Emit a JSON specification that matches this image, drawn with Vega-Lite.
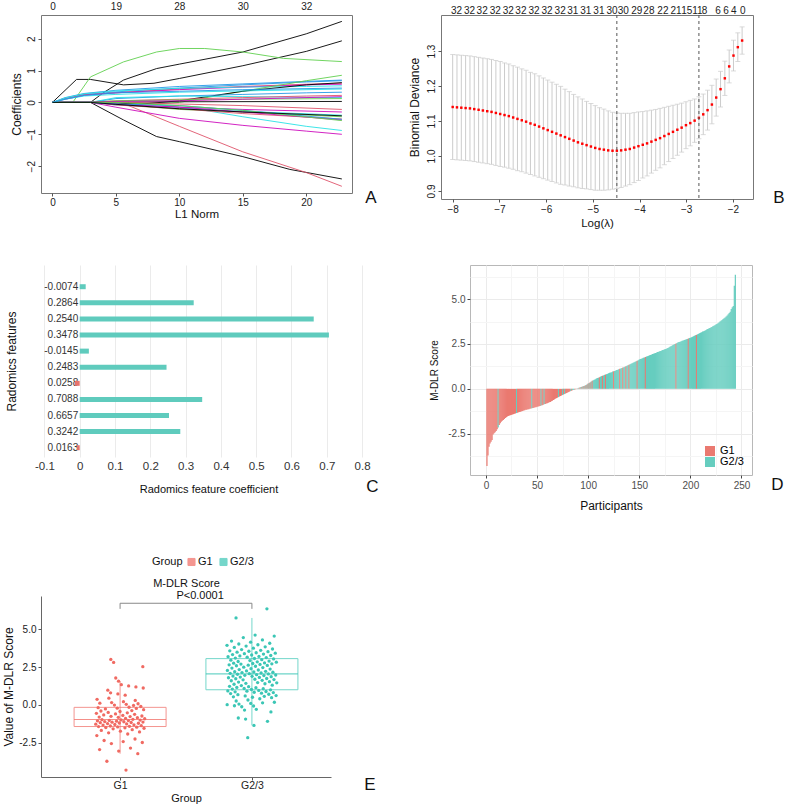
{
"$schema": "https://vega.github.io/schema/vega-lite/v6.json",
"padding": {"left": 2, "top": 0, "right": 0, "bottom": 0},
"background": "white",
"config": {
  "font": "Liberation Sans",
  "axis": {"labelFont": "Liberation Sans", "titleFont": "Liberation Sans", "titleFontWeight": "normal", "labelColor": "#222222", "titleColor": "#111111", "tickColor": "#555555", "domainColor": "#555555", "labelFlush": false, "labelOverlap": false},
  "title": {"font": "Liberation Sans", "fontWeight": "normal", "color": "#111111"},
  "legend": {"labelFont": "Liberation Sans", "titleFont": "Liberation Sans", "titleFontWeight": "normal"},
  "view": {"stroke": null}
},
"datasets": {
"paths": [
{"v":"s01","l1":0,"b":0},{"v":"s01","l1":3,"b":0},{"v":"s01","l1":4,"b":0.3},{"v":"s01","l1":5.6,"b":0.7},{"v":"s01","l1":8.2,"b":1.06},{"v":"s01","l1":10,"b":1.2},{"v":"s01","l1":15,"b":1.58},{"v":"s01","l1":20,"b":2.15},{"v":"s01","l1":22.8,"b":2.54},
{"v":"s02","l1":0,"b":0},{"v":"s02","l1":1.9,"b":0.72},{"v":"s02","l1":3,"b":0.72},{"v":"s02","l1":5.6,"b":0.55},{"v":"s02","l1":8,"b":0.6},{"v":"s02","l1":10,"b":0.75},{"v":"s02","l1":15,"b":1.15},{"v":"s02","l1":20,"b":1.6},{"v":"s02","l1":22.8,"b":1.93},
{"v":"s03","l1":0,"b":0},{"v":"s03","l1":1.6,"b":0},{"v":"s03","l1":3,"b":0.8},{"v":"s03","l1":5.6,"b":1.27},{"v":"s03","l1":8.2,"b":1.58},{"v":"s03","l1":10,"b":1.69},{"v":"s03","l1":12,"b":1.69},{"v":"s03","l1":15,"b":1.58},{"v":"s03","l1":18.2,"b":1.38},{"v":"s03","l1":22.8,"b":1.28},
{"v":"s04","l1":0,"b":0},{"v":"s04","l1":3,"b":0},{"v":"s04","l1":5.6,"b":-0.55},{"v":"s04","l1":8.2,"b":-1.07},{"v":"s04","l1":10,"b":-1.23},{"v":"s04","l1":15,"b":-1.7},{"v":"s04","l1":18.7,"b":-2.1},{"v":"s04","l1":22.8,"b":-2.4},
{"v":"s05","l1":0,"b":0},{"v":"s05","l1":3,"b":0},{"v":"s05","l1":6,"b":-0.1},{"v":"s05","l1":10,"b":-0.75},{"v":"s05","l1":15,"b":-1.55},{"v":"s05","l1":20,"b":-2.2},{"v":"s05","l1":22.8,"b":-2.63},
{"v":"s06","l1":0,"b":0},{"v":"s06","l1":3,"b":0},{"v":"s06","l1":5,"b":-0.15},{"v":"s06","l1":10,"b":-0.5},{"v":"s06","l1":15,"b":-0.72},{"v":"s06","l1":20,"b":-0.9},{"v":"s06","l1":22.8,"b":-1.0},
{"v":"s07","l1":0,"b":0},{"v":"s07","l1":5,"b":0},{"v":"s07","l1":8,"b":-0.05},{"v":"s07","l1":12,"b":-0.25},{"v":"s07","l1":15,"b":-0.45},{"v":"s07","l1":20,"b":-0.75},{"v":"s07","l1":22.8,"b":-0.88},
{"v":"s08","l1":0,"b":0},{"v":"s08","l1":1,"b":0.15},{"v":"s08","l1":2.5,"b":0.28},{"v":"s08","l1":5,"b":0.38},{"v":"s08","l1":10,"b":0.5},{"v":"s08","l1":15,"b":0.58},{"v":"s08","l1":20,"b":0.66},{"v":"s08","l1":22.8,"b":0.7},
{"v":"s09","l1":0,"b":0},{"v":"s09","l1":1,"b":0.12},{"v":"s09","l1":2.5,"b":0.25},{"v":"s09","l1":5,"b":0.33},{"v":"s09","l1":10,"b":0.45},{"v":"s09","l1":15,"b":0.55},{"v":"s09","l1":20,"b":0.64},{"v":"s09","l1":22.8,"b":0.68},
{"v":"s10","l1":0,"b":0},{"v":"s10","l1":1,"b":0.12},{"v":"s10","l1":2.5,"b":0.24},{"v":"s10","l1":5,"b":0.3},{"v":"s10","l1":10,"b":0.42},{"v":"s10","l1":15,"b":0.5},{"v":"s10","l1":20,"b":0.57},{"v":"s10","l1":22.8,"b":0.6},
{"v":"s11","l1":0,"b":0},{"v":"s11","l1":1,"b":0.1},{"v":"s11","l1":2.5,"b":0.22},{"v":"s11","l1":5,"b":0.3},{"v":"s11","l1":10,"b":0.4},{"v":"s11","l1":15,"b":0.48},{"v":"s11","l1":20,"b":0.55},{"v":"s11","l1":22.8,"b":0.57},
{"v":"s12","l1":0,"b":0},{"v":"s12","l1":1,"b":0.14},{"v":"s12","l1":2.5,"b":0.27},{"v":"s12","l1":5,"b":0.36},{"v":"s12","l1":10,"b":0.44},{"v":"s12","l1":15,"b":0.48},{"v":"s12","l1":20,"b":0.5},{"v":"s12","l1":22.8,"b":0.52},
{"v":"s13","l1":0,"b":0},{"v":"s13","l1":5,"b":0},{"v":"s13","l1":8,"b":-0.05},{"v":"s13","l1":10,"b":0},{"v":"s13","l1":15,"b":0.35},{"v":"s13","l1":20,"b":0.68},{"v":"s13","l1":22.8,"b":0.85},
{"v":"s14","l1":0,"b":0},{"v":"s14","l1":3,"b":0},{"v":"s14","l1":7,"b":-0.05},{"v":"s14","l1":10,"b":0.05},{"v":"s14","l1":15,"b":0.35},{"v":"s14","l1":20,"b":0.55},{"v":"s14","l1":22.8,"b":0.62},
{"v":"s15","l1":0,"b":0},{"v":"s15","l1":3,"b":0},{"v":"s15","l1":5,"b":0.12},{"v":"s15","l1":10,"b":0.2},{"v":"s15","l1":15,"b":0.25},{"v":"s15","l1":20,"b":0.3},{"v":"s15","l1":22.8,"b":0.32},
{"v":"s16","l1":0,"b":0},{"v":"s16","l1":3,"b":0},{"v":"s16","l1":5,"b":0.15},{"v":"s16","l1":10,"b":0.2},{"v":"s16","l1":15,"b":0.18},{"v":"s16","l1":22.8,"b":0.15},
{"v":"s17","l1":0,"b":0},{"v":"s17","l1":3,"b":0},{"v":"s17","l1":5,"b":0.05},{"v":"s17","l1":10,"b":0.1},{"v":"s17","l1":15,"b":0.15},{"v":"s17","l1":20,"b":0.2},{"v":"s17","l1":22.8,"b":0.22},
{"v":"s18","l1":0,"b":0},{"v":"s18","l1":3,"b":0},{"v":"s18","l1":5,"b":0.05},{"v":"s18","l1":10,"b":0.08},{"v":"s18","l1":15,"b":0.1},{"v":"s18","l1":22.8,"b":0.12},
{"v":"s19","l1":0,"b":0},{"v":"s19","l1":3,"b":0},{"v":"s19","l1":10,"b":0.02},{"v":"s19","l1":22.8,"b":0.03},
{"v":"s20","l1":0,"b":0},{"v":"s20","l1":3,"b":0},{"v":"s20","l1":5,"b":0.03},{"v":"s20","l1":10,"b":0.05},{"v":"s20","l1":15,"b":0.1},{"v":"s20","l1":22.8,"b":0.18},
{"v":"s21","l1":0,"b":0},{"v":"s21","l1":6,"b":0},{"v":"s21","l1":10,"b":-0.05},{"v":"s21","l1":15,"b":-0.1},{"v":"s21","l1":22.8,"b":-0.22},
{"v":"s22","l1":0,"b":0},{"v":"s22","l1":3,"b":0},{"v":"s22","l1":5,"b":-0.05},{"v":"s22","l1":10,"b":-0.15},{"v":"s22","l1":15,"b":-0.22},{"v":"s22","l1":22.8,"b":-0.3},
{"v":"s23","l1":0,"b":0},{"v":"s23","l1":3,"b":0},{"v":"s23","l1":5,"b":-0.08},{"v":"s23","l1":10,"b":-0.18},{"v":"s23","l1":15,"b":-0.28},{"v":"s23","l1":22.8,"b":-0.4},
{"v":"s24","l1":0,"b":0},{"v":"s24","l1":3,"b":0},{"v":"s24","l1":5,"b":-0.05},{"v":"s24","l1":10,"b":-0.22},{"v":"s24","l1":15,"b":-0.3},{"v":"s24","l1":22.8,"b":-0.45},
{"v":"s25","l1":0,"b":0},{"v":"s25","l1":3,"b":0},{"v":"s25","l1":5,"b":-0.08},{"v":"s25","l1":10,"b":-0.2},{"v":"s25","l1":15,"b":-0.35},{"v":"s25","l1":22.8,"b":-0.52},
{"v":"s26","l1":0,"b":0},{"v":"s26","l1":3,"b":0},{"v":"s26","l1":5,"b":-0.06},{"v":"s26","l1":10,"b":-0.15},{"v":"s26","l1":15,"b":-0.3},{"v":"s26","l1":22.8,"b":-0.55},
{"v":"s27","l1":0,"b":0},{"v":"s27","l1":3,"b":0},{"v":"s27","l1":5,"b":-0.05},{"v":"s27","l1":10,"b":-0.1},{"v":"s27","l1":15,"b":-0.25},{"v":"s27","l1":22.8,"b":-0.53},
{"v":"s28","l1":0,"b":0},{"v":"s28","l1":5,"b":0},{"v":"s28","l1":10,"b":-0.1},{"v":"s28","l1":15,"b":-0.25},{"v":"s28","l1":22.8,"b":-0.57},
{"v":"s29","l1":0,"b":0},{"v":"s29","l1":1,"b":0.1},{"v":"s29","l1":2.5,"b":0.2},{"v":"s29","l1":5,"b":0.25},{"v":"s29","l1":10,"b":0.32},{"v":"s29","l1":15,"b":0.36},{"v":"s29","l1":22.8,"b":0.42},
{"v":"s30","l1":0,"b":0},{"v":"s30","l1":1,"b":0.1},{"v":"s30","l1":2.5,"b":0.22},{"v":"s30","l1":5,"b":0.3},{"v":"s30","l1":10,"b":0.35},{"v":"s30","l1":15,"b":0.4},{"v":"s30","l1":22.8,"b":0.45},
{"v":"s31","l1":0,"b":0},{"v":"s31","l1":3,"b":0},{"v":"s31","l1":5,"b":-0.06},{"v":"s31","l1":10,"b":-0.2},{"v":"s31","l1":15,"b":-0.3},{"v":"s31","l1":22.8,"b":-0.42}
],
"cv": [
{"ll":-8.000,"m":1.140,"se":0.150},{"ll":-7.908,"m":1.139,"se":0.150},{"ll":-7.815,"m":1.138,"se":0.150},{"ll":-7.723,"m":1.137,"se":0.150},{"ll":-7.630,"m":1.136,"se":0.150},{"ll":-7.538,"m":1.134,"se":0.150},{"ll":-7.445,"m":1.132,"se":0.150},{"ll":-7.353,"m":1.130,"se":0.150},{"ll":-7.260,"m":1.128,"se":0.150},{"ll":-7.168,"m":1.126,"se":0.150},
{"ll":-7.075,"m":1.123,"se":0.150},{"ll":-6.983,"m":1.120,"se":0.150},{"ll":-6.890,"m":1.117,"se":0.149},{"ll":-6.798,"m":1.114,"se":0.149},{"ll":-6.705,"m":1.110,"se":0.148},{"ll":-6.613,"m":1.106,"se":0.148},{"ll":-6.520,"m":1.102,"se":0.147},{"ll":-6.428,"m":1.098,"se":0.147},{"ll":-6.335,"m":1.093,"se":0.146},{"ll":-6.243,"m":1.089,"se":0.146},
{"ll":-6.150,"m":1.084,"se":0.145},{"ll":-6.058,"m":1.079,"se":0.144},{"ll":-5.965,"m":1.074,"se":0.143},{"ll":-5.873,"m":1.069,"se":0.142},{"ll":-5.780,"m":1.064,"se":0.141},{"ll":-5.688,"m":1.059,"se":0.140},{"ll":-5.595,"m":1.054,"se":0.137},{"ll":-5.503,"m":1.049,"se":0.135},{"ll":-5.410,"m":1.044,"se":0.132},{"ll":-5.318,"m":1.039,"se":0.130},
{"ll":-5.225,"m":1.035,"se":0.128},{"ll":-5.133,"m":1.031,"se":0.125},{"ll":-5.040,"m":1.027,"se":0.123},{"ll":-4.948,"m":1.023,"se":0.121},{"ll":-4.855,"m":1.020,"se":0.118},{"ll":-4.763,"m":1.018,"se":0.116},{"ll":-4.670,"m":1.016,"se":0.113},{"ll":-4.578,"m":1.015,"se":0.110},{"ll":-4.485,"m":1.015,"se":0.108},{"ll":-4.393,"m":1.016,"se":0.106},
{"ll":-4.300,"m":1.018,"se":0.104},{"ll":-4.208,"m":1.020,"se":0.102},{"ll":-4.115,"m":1.024,"se":0.100},{"ll":-4.023,"m":1.028,"se":0.098},{"ll":-3.930,"m":1.032,"se":0.095},{"ll":-3.838,"m":1.036,"se":0.093},{"ll":-3.745,"m":1.041,"se":0.090},{"ll":-3.653,"m":1.046,"se":0.087},{"ll":-3.560,"m":1.051,"se":0.085},{"ll":-3.468,"m":1.057,"se":0.082},
{"ll":-3.375,"m":1.063,"se":0.079},{"ll":-3.283,"m":1.069,"se":0.076},{"ll":-3.190,"m":1.075,"se":0.073},{"ll":-3.098,"m":1.081,"se":0.070},{"ll":-3.005,"m":1.088,"se":0.067},{"ll":-2.913,"m":1.094,"se":0.065},{"ll":-2.820,"m":1.101,"se":0.062},{"ll":-2.728,"m":1.109,"se":0.060},{"ll":-2.635,"m":1.119,"se":0.058},{"ll":-2.543,"m":1.131,"se":0.057},
{"ll":-2.450,"m":1.147,"se":0.055},{"ll":-2.358,"m":1.167,"se":0.053},{"ll":-2.265,"m":1.191,"se":0.051},{"ll":-2.173,"m":1.222,"se":0.049},{"ll":-2.080,"m":1.256,"se":0.047},{"ll":-1.988,"m":1.287,"se":0.044},{"ll":-1.895,"m":1.311,"se":0.041},{"ll":-1.803,"m":1.330,"se":0.039}
],
"lam": [{"ll":-4.485},{"ll":-2.728}],
"coef": [
{"lab":"-0.0074","c":0.017},{"lab":"0.2864","c":0.323},{"lab":"0.2540","c":0.663},{"lab":"0.3478","c":0.706},{"lab":"-0.0145","c":0.026},{"lab":"0.2483","c":0.246},{"lab":"0.0258","c":-0.014},{"lab":"0.7088","c":0.347},{"lab":"0.6657","c":0.253},{"lab":"0.3242","c":0.285},{"lab":"0.0163","c":-0.0075}
],
"sig": [{"g":"G1","y":6.35,"k":1},{"g":"G1","y":6.72,"k":2},{"g":"G2/3","y":6.72,"k":3},{"g":"G2/3","y":6.35,"k":4}],
"ptext": [{"g":"G1","y":6.72,"t":"P<0.0001"}],
"scores": [
{"p":1,"v":-4.30,"g":"G1"},{"p":2,"v":-3.72,"g":"G1"},{"p":3,"v":-3.22,"g":"G1"},{"p":4,"v":-3.05,"g":"G1"},{"p":5,"v":-2.95,"g":"G1"},{"p":6,"v":-2.85,"g":"G1"},{"p":7,"v":-2.55,"g":"G1"},{"p":8,"v":-2.48,"g":"G1"},{"p":9,"v":-2.42,"g":"G1"},{"p":10,"v":-2.35,"g":"G1"},
{"p":11,"v":-2.25,"g":"G1"},{"p":12,"v":-2.16,"g":"G2/3"},{"p":13,"v":-2.02,"g":"G1"},{"p":14,"v":-1.92,"g":"G1"},{"p":15,"v":-1.84,"g":"G1"},{"p":16,"v":-1.78,"g":"G1"},{"p":17,"v":-1.73,"g":"G1"},{"p":18,"v":-1.68,"g":"G1"},{"p":19,"v":-1.63,"g":"G1"},{"p":20,"v":-1.58,"g":"G1"},
{"p":21,"v":-1.54,"g":"G1"},{"p":22,"v":-1.51,"g":"G1"},{"p":23,"v":-1.49,"g":"G1"},{"p":24,"v":-1.47,"g":"G1"},{"p":25,"v":-1.45,"g":"G1"},{"p":26,"v":-1.43,"g":"G1"},{"p":27,"v":-1.41,"g":"G1"},{"p":28,"v":-1.39,"g":"G1"},{"p":29,"v":-1.37,"g":"G1"},{"p":30,"v":-1.35,"g":"G2/3"},
{"p":31,"v":-1.33,"g":"G1"},{"p":32,"v":-1.31,"g":"G1"},{"p":33,"v":-1.29,"g":"G1"},{"p":34,"v":-1.27,"g":"G1"},{"p":35,"v":-1.25,"g":"G1"},{"p":36,"v":-1.23,"g":"G1"},{"p":37,"v":-1.21,"g":"G1"},{"p":38,"v":-1.19,"g":"G1"},{"p":39,"v":-1.17,"g":"G1"},{"p":40,"v":-1.16,"g":"G1"},
{"p":41,"v":-1.14,"g":"G1"},{"p":42,"v":-1.13,"g":"G1"},{"p":43,"v":-1.11,"g":"G1"},{"p":44,"v":-1.10,"g":"G1"},{"p":45,"v":-1.08,"g":"G2/3"},{"p":46,"v":-1.07,"g":"G1"},{"p":47,"v":-1.05,"g":"G1"},{"p":48,"v":-1.03,"g":"G1"},{"p":49,"v":-1.02,"g":"G1"},{"p":50,"v":-1.00,"g":"G1"},
{"p":51,"v":-0.99,"g":"G1"},{"p":52,"v":-0.97,"g":"G1"},{"p":53,"v":-0.95,"g":"G1"},{"p":54,"v":-0.93,"g":"G2/3"},{"p":55,"v":-0.91,"g":"G1"},{"p":56,"v":-0.89,"g":"G1"},{"p":57,"v":-0.86,"g":"G2/3"},{"p":58,"v":-0.84,"g":"G1"},{"p":59,"v":-0.82,"g":"G1"},{"p":60,"v":-0.80,"g":"G1"},
{"p":61,"v":-0.77,"g":"G1"},{"p":62,"v":-0.75,"g":"G1"},{"p":63,"v":-0.73,"g":"G1"},{"p":64,"v":-0.69,"g":"G1"},{"p":65,"v":-0.66,"g":"G1"},{"p":66,"v":-0.62,"g":"G1"},{"p":67,"v":-0.59,"g":"G1"},{"p":68,"v":-0.55,"g":"G1"},{"p":69,"v":-0.52,"g":"G1"},{"p":70,"v":-0.49,"g":"G1"},
{"p":71,"v":-0.46,"g":"G2/3"},{"p":72,"v":-0.43,"g":"G1"},{"p":73,"v":-0.40,"g":"G1"},{"p":74,"v":-0.37,"g":"G1"},{"p":75,"v":-0.34,"g":"G2/3"},{"p":76,"v":-0.31,"g":"G1"},{"p":77,"v":-0.29,"g":"G2/3"},{"p":78,"v":-0.26,"g":"G1"},{"p":79,"v":-0.23,"g":"G1"},{"p":80,"v":-0.21,"g":"G1"},
{"p":81,"v":-0.18,"g":"G1"},{"p":82,"v":-0.15,"g":"G1"},{"p":83,"v":-0.12,"g":"G2/3"},{"p":84,"v":-0.10,"g":"G1"},{"p":85,"v":-0.07,"g":"G2/3"},{"p":86,"v":-0.05,"g":"G2/3"},{"p":87,"v":-0.03,"g":"G1"},{"p":88,"v":-0.01,"g":"G1"},{"p":89,"v":0.02,"g":"G2/3"},{"p":90,"v":0.04,"g":"G1"},
{"p":91,"v":0.06,"g":"G2/3"},{"p":92,"v":0.08,"g":"G1"},{"p":93,"v":0.10,"g":"G2/3"},{"p":94,"v":0.12,"g":"G1"},{"p":95,"v":0.14,"g":"G2/3"},{"p":96,"v":0.16,"g":"G1"},{"p":97,"v":0.18,"g":"G2/3"},{"p":98,"v":0.22,"g":"G1"},{"p":99,"v":0.26,"g":"G2/3"},{"p":100,"v":0.30,"g":"G1"},
{"p":101,"v":0.33,"g":"G2/3"},{"p":102,"v":0.37,"g":"G1"},{"p":103,"v":0.41,"g":"G2/3"},{"p":104,"v":0.45,"g":"G1"},{"p":105,"v":0.48,"g":"G2/3"},{"p":106,"v":0.51,"g":"G2/3"},{"p":107,"v":0.54,"g":"G2/3"},{"p":108,"v":0.57,"g":"G2/3"},{"p":109,"v":0.60,"g":"G2/3"},{"p":110,"v":0.62,"g":"G2/3"},
{"p":111,"v":0.65,"g":"G1"},{"p":112,"v":0.68,"g":"G2/3"},{"p":113,"v":0.71,"g":"G2/3"},{"p":114,"v":0.73,"g":"G1"},{"p":115,"v":0.75,"g":"G2/3"},{"p":116,"v":0.78,"g":"G2/3"},{"p":117,"v":0.80,"g":"G1"},{"p":118,"v":0.82,"g":"G2/3"},{"p":119,"v":0.84,"g":"G2/3"},{"p":120,"v":0.87,"g":"G2/3"},
{"p":121,"v":0.89,"g":"G2/3"},{"p":122,"v":0.91,"g":"G2/3"},{"p":123,"v":0.93,"g":"G2/3"},{"p":124,"v":0.96,"g":"G2/3"},{"p":125,"v":0.98,"g":"G1"},{"p":126,"v":1.00,"g":"G2/3"},{"p":127,"v":1.02,"g":"G2/3"},{"p":128,"v":1.05,"g":"G2/3"},{"p":129,"v":1.07,"g":"G2/3"},{"p":130,"v":1.09,"g":"G2/3"},
{"p":131,"v":1.12,"g":"G1"},{"p":132,"v":1.14,"g":"G2/3"},{"p":133,"v":1.16,"g":"G2/3"},{"p":134,"v":1.19,"g":"G1"},{"p":135,"v":1.21,"g":"G2/3"},{"p":136,"v":1.23,"g":"G2/3"},{"p":137,"v":1.26,"g":"G1"},{"p":138,"v":1.28,"g":"G2/3"},{"p":139,"v":1.31,"g":"G2/3"},{"p":140,"v":1.34,"g":"G1"},
{"p":141,"v":1.37,"g":"G2/3"},{"p":142,"v":1.40,"g":"G2/3"},{"p":143,"v":1.43,"g":"G2/3"},{"p":144,"v":1.46,"g":"G2/3"},{"p":145,"v":1.48,"g":"G2/3"},{"p":146,"v":1.51,"g":"G2/3"},{"p":147,"v":1.54,"g":"G2/3"},{"p":148,"v":1.57,"g":"G1"},{"p":149,"v":1.60,"g":"G2/3"},{"p":150,"v":1.63,"g":"G2/3"},
{"p":151,"v":1.66,"g":"G2/3"},{"p":152,"v":1.68,"g":"G2/3"},{"p":153,"v":1.70,"g":"G2/3"},{"p":154,"v":1.73,"g":"G2/3"},{"p":155,"v":1.75,"g":"G2/3"},{"p":156,"v":1.78,"g":"G1"},{"p":157,"v":1.80,"g":"G2/3"},{"p":158,"v":1.82,"g":"G2/3"},{"p":159,"v":1.84,"g":"G2/3"},{"p":160,"v":1.87,"g":"G2/3"},
{"p":161,"v":1.89,"g":"G2/3"},{"p":162,"v":1.91,"g":"G2/3"},{"p":163,"v":1.94,"g":"G2/3"},{"p":164,"v":1.96,"g":"G2/3"},{"p":165,"v":1.98,"g":"G2/3"},{"p":166,"v":2.00,"g":"G2/3"},{"p":167,"v":2.03,"g":"G2/3"},{"p":168,"v":2.05,"g":"G2/3"},{"p":169,"v":2.07,"g":"G2/3"},{"p":170,"v":2.09,"g":"G2/3"},
{"p":171,"v":2.11,"g":"G2/3"},{"p":172,"v":2.14,"g":"G2/3"},{"p":173,"v":2.16,"g":"G2/3"},{"p":174,"v":2.18,"g":"G2/3"},{"p":175,"v":2.20,"g":"G2/3"},{"p":176,"v":2.22,"g":"G2/3"},{"p":177,"v":2.25,"g":"G2/3"},{"p":178,"v":2.28,"g":"G2/3"},{"p":179,"v":2.31,"g":"G2/3"},{"p":180,"v":2.34,"g":"G2/3"},
{"p":181,"v":2.37,"g":"G2/3"},{"p":182,"v":2.40,"g":"G2/3"},{"p":183,"v":2.44,"g":"G2/3"},{"p":184,"v":2.47,"g":"G2/3"},{"p":185,"v":2.50,"g":"G2/3"},{"p":186,"v":2.53,"g":"G1"},{"p":187,"v":2.56,"g":"G2/3"},{"p":188,"v":2.59,"g":"G2/3"},{"p":189,"v":2.61,"g":"G2/3"},{"p":190,"v":2.63,"g":"G2/3"},
{"p":191,"v":2.65,"g":"G2/3"},{"p":192,"v":2.68,"g":"G2/3"},{"p":193,"v":2.70,"g":"G2/3"},{"p":194,"v":2.72,"g":"G2/3"},{"p":195,"v":2.74,"g":"G2/3"},{"p":196,"v":2.76,"g":"G2/3"},{"p":197,"v":2.78,"g":"G2/3"},{"p":198,"v":2.81,"g":"G1"},{"p":199,"v":2.83,"g":"G2/3"},{"p":200,"v":2.85,"g":"G2/3"},
{"p":201,"v":2.87,"g":"G2/3"},{"p":202,"v":2.90,"g":"G2/3"},{"p":203,"v":2.93,"g":"G2/3"},{"p":204,"v":2.96,"g":"G2/3"},{"p":205,"v":2.99,"g":"G2/3"},{"p":206,"v":3.01,"g":"G1"},{"p":207,"v":3.04,"g":"G2/3"},{"p":208,"v":3.07,"g":"G2/3"},{"p":209,"v":3.10,"g":"G2/3"},{"p":210,"v":3.13,"g":"G2/3"},
{"p":211,"v":3.16,"g":"G2/3"},{"p":212,"v":3.19,"g":"G2/3"},{"p":213,"v":3.21,"g":"G2/3"},{"p":214,"v":3.24,"g":"G2/3"},{"p":215,"v":3.27,"g":"G2/3"},{"p":216,"v":3.30,"g":"G2/3"},{"p":217,"v":3.33,"g":"G2/3"},{"p":218,"v":3.36,"g":"G2/3"},{"p":219,"v":3.39,"g":"G2/3"},{"p":220,"v":3.42,"g":"G2/3"},
{"p":221,"v":3.45,"g":"G2/3"},{"p":222,"v":3.49,"g":"G2/3"},{"p":223,"v":3.52,"g":"G2/3"},{"p":224,"v":3.55,"g":"G2/3"},{"p":225,"v":3.58,"g":"G2/3"},{"p":226,"v":3.61,"g":"G2/3"},{"p":227,"v":3.66,"g":"G2/3"},{"p":228,"v":3.70,"g":"G2/3"},{"p":229,"v":3.75,"g":"G2/3"},{"p":230,"v":3.80,"g":"G2/3"},
{"p":231,"v":3.84,"g":"G2/3"},{"p":232,"v":3.89,"g":"G2/3"},{"p":233,"v":3.94,"g":"G2/3"},{"p":234,"v":3.98,"g":"G2/3"},{"p":235,"v":4.03,"g":"G2/3"},{"p":236,"v":4.08,"g":"G2/3"},{"p":237,"v":4.15,"g":"G2/3"},{"p":238,"v":4.22,"g":"G2/3"},{"p":239,"v":4.30,"g":"G2/3"},{"p":240,"v":4.45,"g":"G2/3"},
{"p":241,"v":4.55,"g":"G2/3"},{"p":242,"v":4.62,"g":"G2/3"},{"p":243,"v":5.75,"g":"G2/3"},{"p":244,"v":6.35,"g":"G2/3"}
]
},
"resolve": {"scale": {"color": "independent", "stroke": "independent"}},
"vconcat": [
{
"resolve": {"scale": {"color": "independent", "stroke": "independent"}},
"vconcat": [
{
"resolve": {"scale": {"color": "independent"}},
"concat": [
{
"width": 311, "height": 178,
"view": {"stroke": "#777777"},
"title": {"text": "A", "orient": "right", "anchor": "end", "angle": 0, "align": "left", "baseline": "middle", "offset": 2, "dy": 5, "fontSize": 17, "frame": "group"},
"data": {"name": "paths"},
"layer": [
{"mark": {"type": "line", "strokeWidth": 0.9, "clip": true},
 "encoding": {
  "x": {"field": "l1", "type": "quantitative", "scale": {"domain": [-0.9, 23.6], "nice": false, "zero": false},
        "axis": {"values": [0,5,10,15,20], "title": "L1 Norm", "titleFontSize": 11.5, "titlePadding": 1, "labelFontSize": 10, "labelPadding": 1, "tickSize": 3, "domain": false, "grid": false}},
  "y": {"field": "b", "type": "quantitative", "scale": {"domain": [-2.84, 2.74], "nice": false, "zero": false},
        "axis": {"values": [-2,-1,0,1,2], "title": "Coefficients", "titleFontSize": 12, "titlePadding": 3, "labelFontSize": 10, "labelAngle": 270, "labelAlign": "center", "labelBaseline": "bottom", "labelPadding": 2, "tickSize": 3, "domain": false, "grid": false}},
  "color": {"field": "v", "type": "nominal", "legend": null,
            "scale": {"domain": ["s01","s02","s03","s04","s05","s06","s07","s08","s09","s10","s11","s12","s13","s14","s15","s16","s17","s18","s19","s20","s21","s22","s23","s24","s25","s26","s27","s28","s29","s30","s31"],
                      "range": ["#000000","#000000","#61D04F","#000000","#DF536B","#CD0BBC","#28E2E5","#2297E6","#2297E6","#DF536B","#CD0BBC","#28E2E5","#61D04F","#000000","#2297E6","#28E2E5","#DF536B","#61D04F","#000000","#CD0BBC","#DF536B","#CD0BBC","#28E2E5","#61D04F","#DF536B","#CD0BBC","#2297E6","#61D04F","#28E2E5","#2297E6","#000000"]}}
 }},
{"mark": {"type": "point", "opacity": 0},
 "encoding": {
  "x": {"field": "l1", "type": "quantitative",
        "axis": {"orient": "top", "values": [0,5,10,15,20], "labelExpr": "['0','19','28','30','32'][round(datum.value/5)]", "ticks": false, "domain": false, "grid": false, "labelPadding": 4, "labelFontSize": 10, "title": null}}
 }}
],
"resolve": {"axis": {"x": "independent"}}
},
{
"width": 312, "height": 184,
"view": {"stroke": "#777777"},
"title": {"text": "B", "orient": "right", "anchor": "end", "angle": 0, "align": "left", "baseline": "middle", "offset": 9, "dy": -1, "fontSize": 17, "frame": "group"},
"layer": [
{"data": {"name": "cv"},
 "mark": {"type": "errorbar", "color": "#cccccc", "ticks": {"color": "#cccccc", "size": 5}},
 "encoding": {
  "x": {"field": "ll", "type": "quantitative", "scale": {"domain": [-8.25, -1.57], "nice": false, "zero": false},
        "axis": {"values": [-8,-7,-6,-5,-4,-3,-2], "title": "Log(λ)", "titleFontSize": 11.5, "titlePadding": 3, "labelFontSize": 10, "labelPadding": 2, "tickSize": 3, "domain": false, "grid": false}},
  "y": {"field": "m", "type": "quantitative", "scale": {"domain": [0.877, 1.403], "nice": false, "zero": false},
        "axis": {"values": [0.9,1.0,1.1,1.2,1.3], "format": ".1f", "title": "Binomial Deviance", "titleFontSize": 12, "titlePadding": 5, "labelFontSize": 10, "labelAngle": 270, "labelAlign": "center", "labelBaseline": "bottom", "labelPadding": 2, "tickSize": 3, "domain": false, "grid": false}},
  "yError": {"field": "se"}
 }},
{"data": {"name": "cv"},
 "mark": {"type": "square", "size": 6, "color": "#ff0000", "opacity": 1},
 "encoding": {
  "x": {"field": "ll", "type": "quantitative", "axis": null},
  "y": {"field": "m", "type": "quantitative", "axis": {"title": "Binomial Deviance"}}
 }},
{"data": {"name": "lam"},
 "mark": {"type": "rule", "strokeDash": [3, 3], "color": "#555555", "strokeWidth": 1},
 "encoding": {
  "x": {"field": "ll", "type": "quantitative", "axis": null}
 }},
{"data": {"name": "cv"},
 "mark": {"type": "point", "opacity": 0},
 "encoding": {
  "x": {"field": "ll", "type": "quantitative",
        "axis": {"orient": "top", "values": [-7.93,-7.65,-7.38,-7.1,-6.82,-6.55,-6.27,-5.99,-5.71,-5.44,-5.16,-4.88,-4.6,-4.36,-4.07,-3.81,-3.51,-3.23,-3.0,-2.77,-2.62,-2.33,-2.16,-1.99,-1.8],
                 "labelExpr": "['32','32','32','32','32','32','32','32','32','31','31','31','30','30','29','28','22','21','15','11','8','6','6','4','0'][indexof([-7.93,-7.65,-7.38,-7.1,-6.82,-6.55,-6.27,-5.99,-5.71,-5.44,-5.16,-4.88,-4.6,-4.36,-4.07,-3.81,-3.51,-3.23,-3.0,-2.77,-2.62,-2.33,-2.16,-1.99,-1.8], round(datum.value*100)/100)]",
                 "ticks": false, "domain": false, "grid": false, "labelPadding": 0, "labelFontSize": 10, "title": null}}
 }}
],
"resolve": {"axis": {"x": "independent"}}
}
],
"columns": 2,
"align": "none",
"spacing": 29
},
{
"resolve": {"scale": {"color": "independent"}},
"hconcat": [
{
"width": 335, "height": 192,
"view": {"stroke": null},
"title": {"text": "C", "orient": "right", "anchor": "end", "angle": 0, "align": "left", "baseline": "middle", "offset": -22, "dy": 30, "fontSize": 17, "frame": "group"},
"data": {"name": "coef"},
"mark": {"type": "bar"},
"encoding": {
 "x": {"field": "c", "type": "quantitative", "scale": {"domain": [-0.1096, 0.8394], "nice": false},
       "axis": {"values": [-0.1,0,0.1,0.2,0.3,0.4,0.5,0.6,0.7,0.8], "labelExpr": "datum.value === 0 ? '0' : replace(format(datum.value, '.1f'), '−', '-')", "title": "Radomics feature coefficient", "titleFontSize": 11, "titlePadding": 12, "labelFontSize": 11.5, "labelPadding": 3, "labelColor": "#333333", "ticks": false, "domain": false, "grid": true, "gridColor": "#EBEBEB"}},
 "y": {"field": "lab", "type": "nominal", "sort": null, "scale": {"paddingInner": 0.69, "paddingOuter": 0.8075, "align": 0.739},
       "axis": {"offset": -38.7, "title": "Radomics features", "titleFontSize": 12, "titlePadding": 25, "labelFontSize": 10, "labelPadding": 2, "labelColor": "#333333", "ticks": false, "domain": false, "grid": false}},
 "color": {"condition": {"test": "datum.c < 0", "value": "#E8736B"}, "value": "#5FCBBD"}
}
},
{
"width": 282, "height": 210,
"view": {"stroke": "#B8B8B8"},
"title": {"text": "D", "orient": "right", "anchor": "end", "angle": 0, "align": "left", "baseline": "middle", "offset": 7, "dy": 10, "fontSize": 17, "frame": "group"},
"data": {"name": "scores"},
"mark": {"type": "bar", "width": 1.2},
"encoding": {
 "x": {"field": "p", "type": "quantitative", "scale": {"domain": [-10.7, 255.4], "nice": false, "zero": false},
       "axis": {"values": [0,25,50,75,100,125,150,175,200,225,250], "labelExpr": "datum.value % 50 === 0 ? datum.label : ''", "title": "Participants", "titleFontSize": 12, "titlePadding": 10, "labelFontSize": 10, "labelPadding": 2, "labelColor": "#4D4D4D", "tickSize": 3, "tickColor": "#444444",
                "tickOpacity": {"condition": {"test": "datum.value % 50 === 0", "value": 1}, "value": 0},
                "gridColor": {"condition": {"test": "datum.value % 50 === 0", "value": "#EBEBEB"}, "value": "#F5F5F5"},
                "grid": true, "domain": false}},
 "y": {"field": "v", "type": "quantitative", "scale": {"domain": [-4.8, 6.9], "nice": false, "zero": false},
       "axis": {"values": [-3.75,-2.5,-1.25,0,1.25,2.5,3.75,5,6.25], "labelExpr": "datum.value % 2.5 === 0 ? replace(format(datum.value, '.1f'), '−', '-') : ''", "title": "M-DLR Score", "titleFontSize": 10, "titlePadding": 8, "labelFontSize": 10, "labelPadding": 2, "labelColor": "#4D4D4D", "tickSize": 3, "tickColor": "#444444",
                "tickOpacity": {"condition": {"test": "datum.value % 2.5 === 0", "value": 1}, "value": 0},
                "gridColor": {"condition": {"test": "datum.value % 2.5 === 0", "value": "#EBEBEB"}, "value": "#F5F5F5"},
                "grid": true, "domain": false}},
 "color": {"field": "g", "type": "nominal", "scale": {"domain": ["G1", "G2/3"], "range": ["#EA7970", "#66CDBF"]},
           "legend": {"orient": "bottom-right", "title": null, "symbolType": "square", "symbolSize": 100, "labelFontSize": 11, "offset": 8, "rowPadding": 0, "symbolOpacity": 1}}
}
}
],
"spacing": 50
}
],
"spacing": 35
},
{
"width": 290, "height": 181,
"view": {"stroke": null},
"title": {"text": "E", "orient": "right", "anchor": "end", "angle": 0, "align": "left", "baseline": "middle", "offset": 22, "dy": 8, "fontSize": 17, "frame": "group"},
"layer": [
{"data": {"name": "scores"},
 "transform": [
  {"joinaggregate": [{"op": "q1", "field": "v", "as": "q1"}, {"op": "q3", "field": "v", "as": "q3"}], "groupby": ["g"]},
  {"filter": "datum.v >= datum.q1 - 1.5*(datum.q3-datum.q1) && datum.v <= datum.q3 + 1.5*(datum.q3-datum.q1)"},
  {"aggregate": [{"op": "min", "field": "v", "as": "lo"}, {"op": "max", "field": "v", "as": "hi"}], "groupby": ["g"]}
 ],
 "mark": {"type": "rule", "opacity": 0.7, "strokeWidth": 1},
 "encoding": {
  "x": {"field": "g", "type": "nominal", "scale": {"type": "point", "domain": ["G1", "G2/3"], "padding": 0.6},
        "axis": {"title": "Group", "titleFontSize": 11, "titlePadding": 2, "labelFontSize": 10.5, "labelPadding": 0, "labelAngle": 0, "tickSize": 3, "domain": true, "domainColor": "#666666", "grid": false}},
  "y": {"field": "lo", "type": "quantitative", "scale": {"domain": [-4.76, 7.2], "nice": false, "zero": false},
        "axis": {"values": [-2.5, 0, 2.5, 5], "labelExpr": "replace(format(datum.value, '.1f'), '−', '-')", "title": "Value of  M-DLR Score", "titleFontSize": 12, "titlePadding": 3, "labelFontSize": 10, "labelPadding": 2, "tickSize": 3, "domain": true, "domainColor": "#666666", "grid": false}},
  "y2": {"field": "hi"},
  "color": {"field": "g", "type": "nominal", "scale": {"domain": ["G1", "G2/3"], "range": ["#F06A62", "#3BC6B5"]},
            "legend": {"orient": "none", "legendX": 111, "legendY": -40, "direction": "horizontal", "title": "Group", "titleOrient": "left", "symbolType": "M-1,-1H1V1H-1Z M0,-1V1 M-1,0H1", "symbolSize": 50, "symbolStrokeWidth": 1, "symbolFillColor": "transparent", "labelFontSize": 11, "titleFontSize": 11, "titlePadding": 3, "columnPadding": 4, "labelOffset": 1, "titleColor": "#111111", "labelColor": "#111111"}}
 }},
{"data": {"name": "scores"},
 "transform": [{"aggregate": [{"op": "q1", "field": "v", "as": "q1"}, {"op": "q3", "field": "v", "as": "q3"}], "groupby": ["g"]}],
 "mark": {"type": "bar", "width": 92, "filled": false, "strokeWidth": 1, "opacity": 0.7},
 "encoding": {
  "x": {"field": "g", "type": "nominal", "axis": null},
  "y": {"field": "q1", "type": "quantitative"},
  "y2": {"field": "q3"},
  "color": {"field": "g", "type": "nominal"}
 }},
{"data": {"name": "scores"},
 "transform": [{"aggregate": [{"op": "median", "field": "v", "as": "med"}], "groupby": ["g"]}],
 "mark": {"type": "tick", "size": 92, "thickness": 1.2, "opacity": 0.75},
 "encoding": {
  "x": {"field": "g", "type": "nominal", "axis": null},
  "y": {"field": "med", "type": "quantitative"},
  "color": {"field": "g", "type": "nominal"}
 }},
{"data": {"name": "scores"},
 "transform": [{"calculate": "((datum.p*0.618034)%1)-0.5", "as": "jit"}],
 "mark": {"type": "circle", "size": 11, "opacity": 1},
 "encoding": {
  "x": {"field": "g", "type": "nominal", "axis": null},
  "xOffset": {"field": "jit", "type": "quantitative", "scale": {"domain": [-0.5, 0.5], "range": [-25, 25]}},
  "y": {"field": "v", "type": "quantitative"},
  "color": {"field": "g", "type": "nominal"}
 }},
{"data": {"name": "sig"},
 "mark": {"type": "line", "color": "#888888", "strokeWidth": 1},
 "encoding": {
  "x": {"field": "g", "type": "nominal", "axis": null},
  "y": {"field": "y", "type": "quantitative"},
  "order": {"field": "k"}
 }},
{"data": {"name": "ptext"},
 "mark": {"type": "text", "fontSize": 11, "dx": 80, "dy": -2, "baseline": "bottom", "align": "center", "color": "#111111"},
 "encoding": {
  "x": {"field": "g", "type": "nominal", "axis": null},
  "y": {"field": "y", "type": "quantitative"},
  "text": {"field": "t"}
 }},
{"data": {"name": "ptext"},
 "mark": {"type": "point", "opacity": 0},
 "encoding": {
  "x": {"field": "g", "type": "nominal", "axis": {"orient": "top", "labels": false, "ticks": false, "domain": false, "title": "M-DLR Score", "titleFontSize": 11, "titlePadding": 8}}
 }}
],
"resolve": {"axis": {"x": "independent"}}
}
],
"spacing": 44
}
